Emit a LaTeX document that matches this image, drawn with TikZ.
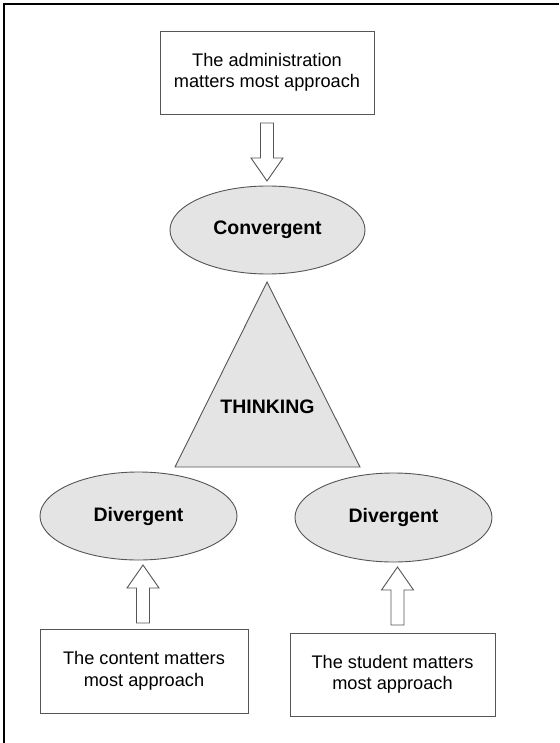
\documentclass[tikz,border=0pt]{standalone}
\usepackage{fontspec}
\setmainfont{Liberation Sans}
\usetikzlibrary{shapes.geometric,calc}
\definecolor{shapefill}{RGB}{228,228,228}
\definecolor{edgegray}{RGB}{85,85,85}
\tikzset{
  textbox/.style={draw=edgegray, line width=0.9pt, fill=white, align=center, inner sep=0pt,
    font=\fontsize{18.2}{21.5}\selectfont},
  oval/.style={ellipse, draw=edgegray, line width=0.9pt, fill=shapefill, inner sep=0pt,
    font=\fontsize{19.5}{22}\selectfont\bfseries},
  blockarrow/.style={draw=edgegray, line width=0.9pt, fill=white, line join=miter},
  tri/.style={draw=edgegray, line width=0.9pt, fill=shapefill, line join=miter},
}
\newcommand\blockarr[4]{% center x, tip y, head base y, tail y
  \draw[blockarrow] (#1,#2) -- (#1+16,#3) -- (#1+6.5,#3) -- (#1+6.5,#4) -- (#1-6.5,#4)
     -- (#1-6.5,#3) -- (#1-16,#3) -- cycle;}
\begin{document}
\begin{tikzpicture}[x=1pt,y=-1pt]
\useasboundingbox (0,0) rectangle (559,743);
\fill[white] (0,0) rectangle (559,743);
% frame (top and left edges visible)
\draw[line width=1.5pt] (559,4) -- (4,4) -- (4,743);
% nodes
\node[textbox, minimum width=214, minimum height=83] (adm) at (267,72.5)
  {The administration\\matters most approach};
\node[oval, minimum width=195, minimum height=88] (conv) at (267.5,230) {Convergent};
\draw[tri] (267,282) -- (360,467) -- (175,467) -- cycle;
\node[font=\fontsize{19.5}{22}\selectfont\bfseries, inner sep=0pt] (think) at (267.5,407) {THINKING};
\node[oval, minimum width=197, minimum height=88] (divl) at (138.5,516) {Divergent};
\node[oval, minimum width=197, minimum height=89] (divr) at (393.5,517.5) {Divergent};
\node[textbox, minimum width=208, minimum height=84] (cont) at (144,671)
  {The content matters\\most approach};
\node[textbox, minimum width=205, minimum height=83] (stud) at (392.5,674.5)
  {The student matters\\most approach};
% block arrows
\blockarr{267}{181}{158}{123}
\blockarr{143}{565}{588}{623}
\blockarr{397.5}{567}{590}{625}
\end{tikzpicture}
\end{document}
